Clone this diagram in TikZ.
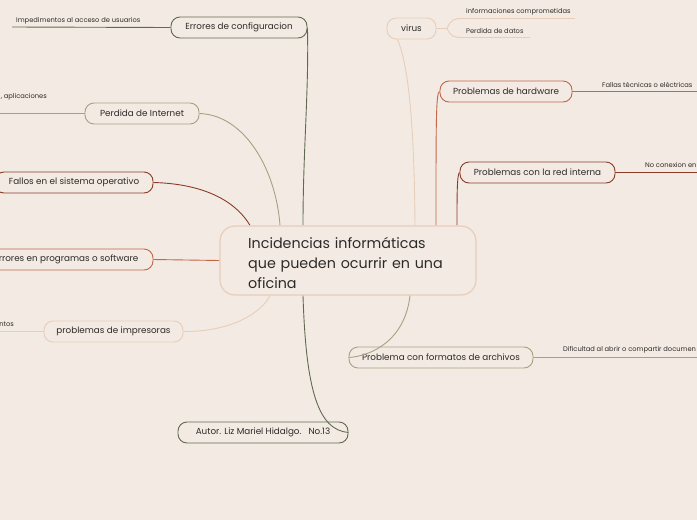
\documentclass[tikz,border=0pt]{standalone}
\usepackage{fontspec}
\setmainfont{Poppins}
\usetikzlibrary{backgrounds}
\definecolor{bg}{RGB}{243,235,227}
\definecolor{olivedk}{RGB}{96,106,80}
\definecolor{tan}{RGB}{168,160,128}
\definecolor{brownc}{RGB}{138,60,40}
\definecolor{orangec}{RGB}{192,104,72}
\definecolor{peach}{RGB}{232,205,185}
\definecolor{txt}{RGB}{45,42,40}
\tikzset{
  topic/.style={draw, fill=bg, rounded corners=9pt, line width=0.9pt, minimum height=21pt, inner sep=0pt, text=txt, font=\fontsize{8.8}{10}\selectfont},
  leaf/.style={inner sep=0pt, text=txt, font=\fontsize{6.7}{8}\selectfont},
  conn/.style={line width=0.9pt},
}
\begin{document}
\begin{tikzpicture}[x=1pt,y=-1pt]
\useasboundingbox (0,0) rectangle (697,520);

% central
\node[draw=peach, fill=bg, line width=1.2pt, rounded corners=15pt, minimum width=256pt, minimum height=69pt, inner sep=0pt] (c) at (348,260.5) {};
\node[text=txt, font=\fontsize{14.3}{20}\selectfont, text width=220pt, align=left, anchor=base west, inner sep=0pt] (ct) at (248,248) {Incidencias informáticas\\que pueden ocurrir en una\\oficina};

\coordinate (cConf) at ([xshift=-45pt]c.north);
\coordinate (cInet) at ([xshift=-68pt]c.north);
\coordinate (cFallos) at ([xshift=-98pt]c.north);
\coordinate (cImpr) at ([xshift=-78pt]c.south);
\coordinate (cAutor) at ([xshift=-45pt]c.south);
\coordinate (cVirus) at ([xshift=67pt]c.north);
\coordinate (cHw) at ([xshift=88pt]c.north);
\coordinate (cRed) at ([xshift=109pt]c.north);
\coordinate (cForm) at ([xshift=62pt]c.south);

\node[topic, draw=olivedk, minimum width=136pt] (conf) at (239,27.5) {Errores de configuracion};
\node[topic, draw=tan, minimum width=114pt] (inet) at (142,113.5) {Perdida de Internet};
\node[topic, draw=brownc, minimum width=158pt] (fallos) at (74,182.5) {Fallos en el sistema operativo};
\node[topic, draw=orangec, minimum width=174pt] (prog) at (66,259.5) {};
\node[text=txt, font=\fontsize{8.8}{10}\selectfont, inner sep=0pt, anchor=east] (progt) at (138.5,259.5) {rrores en programas o software};
\node[topic, draw=peach, minimum width=139pt] (impr) at (113.5,331.5) {problemas de impresoras};
\node[topic, draw=olivedk, minimum width=170pt] (autor) at (263,432.5) {Autor. Liz Mariel Hidalgo.\ \ \ No.13};
\node[topic, draw=peach, minimum width=49pt] (virus) at (411.5,28.5) {virus};
\node[topic, draw=orangec, minimum width=132pt] (hw) at (506,91.5) {Problemas de hardware};
\node[topic, draw=brownc, minimum width=155pt] (red) at (537.5,172.5) {Problemas con la red interna};
\node[topic, draw=tan, minimum width=184pt] (form) at (441,357.5) {Problema con formatos de archivos};

\begin{scope}[on background layer]
\fill[bg] (0,0) rectangle (697,520);
\draw[conn, olivedk] (conf.east) .. controls (309,90) and (303,150) .. (cConf);
\draw[conn, tan] (inet.east) .. controls (245,115) and (276,170) .. (cInet);
\draw[conn, brownc] (fallos.east) .. controls (210,184) and (238,205) .. (cFallos);
\draw[conn, orangec] (prog.east) -- (c.west);
\draw[conn, peach] (impr.east) .. controls (232,332) and (262,312) .. (cImpr);
\draw[conn, peach] (virus.west) .. controls (402,30) and (414,80) .. (cVirus);
\draw[conn, orangec] (hw.west) .. controls (436,92) and (436,120) .. (cHw);
\draw[conn, brownc] (red.west) .. controls (457,174) and (457,195) .. (cRed);

\coordinate (lConf) at (12,27);
\draw[conn, olivedk] (conf.west) -- (lConf);
\coordinate (lInet) at (-2,113.5);
\draw[conn, tan] (inet.west) -- (lInet);
\coordinate (lImpr) at (-2,331.5);
\draw[conn, peach] (impr.west) -- (lImpr);
\coordinate (lHw) at (700,91.5);
\draw[conn, orangec] (hw.east) -- (lHw);
\coordinate (lRed) at (700,172.5);
\draw[conn, brownc] (red.east) -- (lRed);
\coordinate (lForm) at (700,357.5);
\draw[conn, tan] (form.east) -- (lForm);

\coordinate (vb) at (447,28.5);
\coordinate (v1a) at (462,18.5);
\coordinate (v1b) at (575,18.5);
\coordinate (v2a) at (462,37.5);
\coordinate (v2b) at (530,37.5);
\draw[conn, peach] (virus.east) -- (vb) .. controls (451,19) and (455,18.5) .. (v1a) -- (v1b);
\draw[conn, peach] (vb) .. controls (451,37) and (455,37.5) .. (v2a) -- (v2b);
\end{scope}

% connectors drawn over their boxes
\draw[conn, olivedk] (cAutor) .. controls (306,390) and (318,430) .. (autor.east);
\draw[conn, tan] (cForm) .. controls (405,340) and (372,356) .. (form.west);

% leaf texts
\node[leaf, anchor=south west] (tConf) at (16,24) {Impedimentos al acceso de usuarios};
\node[leaf, anchor=south east] (tInet) at (47,100) {, aplicaciones};
\node[leaf, anchor=south east] (tImpr) at (14,327) {ntos};
\node[leaf, anchor=south west] (tHw) at (602,88) {Fallas técnicas o eléctricas};
\node[leaf, anchor=south west] (tRed) at (645,168) {No conexion en};
\node[leaf, anchor=south west] (tForm) at (563,353) {Dificultad al abrir o compartir documen};
\node[leaf, anchor=south west] (tV1) at (466,15) {informaciones comprometidas};
\node[leaf, anchor=south west] (tV2) at (466,34) {Perdida de datos};
\end{tikzpicture}
\end{document}
